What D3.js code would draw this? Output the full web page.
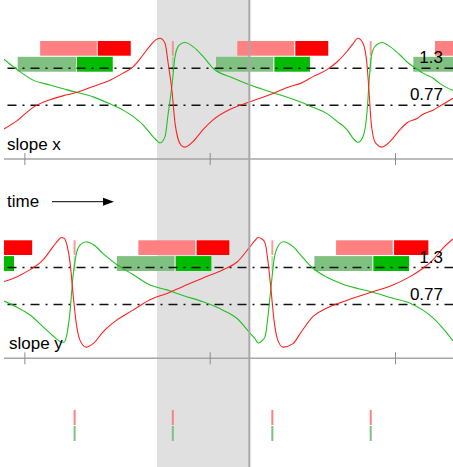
<!DOCTYPE html>
<html>
<head>
<meta charset="utf-8">
<script src="https://cdn.jsdelivr.net/npm/d3@7/dist/d3.min.js"></script>
<style>
	body { margin: 0; background: #fff; }
	svg { display: block; font-family: "Liberation Sans", Arial, sans-serif; }
</style>
</head>
<body>
<svg id="chart" width="453" height="467"></svg>
<script>

// time axis: unlabelled ticks, shaded window whose right edge is "now"
var tickTimes = [0, 10, 20];
var windowSpan = [7.16, 12.14];
var thresholds = [1.3, 0.77];
var thresholdLabels = ["1.3", "0.77"];

// slope x
var sxTime = [-1.10, -0.39, 0.47, 1.39, 2.30, 2.90, 3.71, 4.62, 5.33, 5.86, 6.40, 6.78, 7.05, 7.32, 7.59, 7.75, 7.97, 8.13, 8.29, 8.45,
	8.67, 9.10, 9.64, 10.18, 11.26, 12.18, 13.42, 14.34, 14.87, 15.58, 16.33, 16.87, 17.41, 17.73, 18.00, 18.27, 18.49, 18.60, 18.71, 18.81,
	18.98, 19.30, 19.73, 20.27, 20.65, 21.19, 21.51, 22.05, 22.43, 23.13];
var sxRed = [0.43, 0.55, 0.74, 0.85, 0.92, 0.96, 1.04, 1.13, 1.23, 1.32, 1.49, 1.62, 1.70, 1.73, 1.66, 1.39, 0.96, 0.51, 0.29, 0.20,
	0.17, 0.25, 0.42, 0.56, 0.73, 0.82, 0.94, 1.04, 1.08, 1.18, 1.28, 1.39, 1.54, 1.65, 1.73, 1.66, 1.35, 0.96, 0.53, 0.34,
	0.22, 0.17, 0.25, 0.42, 0.52, 0.58, 0.64, 0.70, 0.76, 0.87];
var sxGreen = [1.43, 1.28, 1.13, 1.06, 0.99, 0.95, 0.89, 0.79, 0.70, 0.61, 0.49, 0.37, 0.29, 0.23, 0.32, 0.63, 1.07, 1.47, 1.61, 1.65,
	1.67, 1.61, 1.47, 1.30, 1.16, 1.06, 0.95, 0.87, 0.82, 0.74, 0.65, 0.54, 0.42, 0.30, 0.24, 0.32, 0.67, 1.10, 1.45, 1.56,
	1.63, 1.67, 1.61, 1.49, 1.39, 1.29, 1.23, 1.16, 1.08, 0.98];
var sxRedLight = [[0.85, 3.91], [11.49, 14.55], [22.16, 25]];
var sxRedDark = [[3.96, 5.74], [14.62, 16.40]];
var sxGreenLight = [[-0.36, 2.79], [10.34, 13.43], [20.99, 25]];
var sxGreenDark = [[2.84, 4.77], [13.49, 15.41]];
var sxSwitch = [8.01, 18.69];

// slope y
var syTime = [-1.10, -0.39, 0.31, 1.01, 1.55, 1.82, 1.98, 2.14, 2.30, 2.47, 2.63, 2.79, 3.00, 3.33, 3.71, 4.25, 5.00, 5.86, 6.78, 7.70,
	8.56, 9.64, 10.72, 11.48, 12.18, 12.45, 12.61, 12.82, 12.99, 13.15, 13.31, 13.47, 13.64, 13.96, 14.50, 14.87, 15.58, 16.33, 17.19, 18.76,
	19.89, 20.81, 21.51, 22.05, 22.59, 23.13];
var syRed = [1.10, 1.17, 1.27, 1.41, 1.60, 1.69, 1.73, 1.72, 1.62, 1.36, 0.91, 0.52, 0.26, 0.16, 0.21, 0.38, 0.55, 0.69, 0.84, 0.93,
	1.03, 1.15, 1.27, 1.38, 1.60, 1.69, 1.73, 1.71, 1.65, 1.38, 0.98, 0.55, 0.29, 0.16, 0.21, 0.35, 0.60, 0.72, 0.81, 0.95,
	1.05, 1.17, 1.29, 1.41, 1.58, 1.71];
var syGreen = [0.82, 0.73, 0.62, 0.45, 0.32, 0.26, 0.23, 0.23, 0.35, 0.69, 1.19, 1.48, 1.62, 1.67, 1.63, 1.50, 1.34, 1.20, 1.05, 0.98,
	0.90, 0.81, 0.69, 0.57, 0.36, 0.28, 0.22, 0.25, 0.31, 0.61, 1.02, 1.41, 1.58, 1.67, 1.60, 1.49, 1.29, 1.16, 1.06, 0.95,
	0.86, 0.79, 0.69, 0.58, 0.43, 0.25];
var syRedLight = [[6.15, 9.21], [16.82, 19.88]];
var syRedDark = [[-1.42, 0.42], [9.30, 11.06], [19.95, 21.80]];
var syGreenLight = [[4.99, 8.09], [15.65, 18.78]];
var syGreenDark = [[-1.42, -0.56], [8.17, 10.09], [18.83, 20.76]];
var sySwitch = [2.71, 13.38];

var svg = d3.select("#chart");
var W = 453, H = 467;
var [ mL, mR ] = [ 4, 0 ];

var x = d3.scaleLinear().domain([-1.10, 23.13]).range([ mL, W - mR ]);

svg.append("clipPath").attr("id", "plotclip")
	.append("rect").attr("x", mL).attr("y", 0).attr("width", W - mL - mR).attr("height", H);

// shaded window + now line, full height
svg.append("rect")
	.attr("x", x(windowSpan[0])).attr("y", 0)
	.attr("width", x(windowSpan[1]) - x(windowSpan[0])).attr("height", H)
	.attr("fill", "#e0e0e0");

var panels = [
	{ name: "slope x", top: 0, time: sxTime, red: sxRed, green: sxGreen,
		redLight: sxRedLight, redDark: sxRedDark, greenLight: sxGreenLight, greenDark: sxGreenDark, sw: sxSwitch, labelX: 7 },
	{ name: "slope y", top: 199.3, time: syTime, red: syRed, green: syGreen,
		redLight: syRedLight, redDark: syRedDark, greenLight: syGreenLight, greenDark: syGreenDark, sw: sySwitch, labelX: 9 },
];

panels.forEach(p => draw_panel(p));

function draw_panel(p)	{

	var g = svg.append("g").attr("transform", `translate(0, ${p.top})`);
	var y = d3.scaleLinear([0, 2], [159, 159 - 2*69.8]);
	var rowR = [41, 14.7], rowG = [56.8, 14.9];		// bar rows: top, height

	// axis line + ticks going both ways
	g.append("line")
		.attr("x1", mL).attr("x2", W).attr("y1", y(0)).attr("y2", y(0))
		.attr("stroke", "#a6a6a6").attr("stroke-width", 1.5);

	var ax = g.append("g")
		.attr("transform", `translate(0, ${y(0) - 6})`)
		.call(d3.axisBottom(x).tickValues(tickTimes).tickSize(12).tickFormat(""));
	ax.select(".domain").remove();
	ax.selectAll(".tick line").attr("stroke", "#8c8c8c");

	var pg = g.append("g").attr("clip-path", "url(#plotclip)");

	function bars(data, row, fill)	{
		pg.append("g").selectAll("rect")
			.data(data)
			.join("rect")
			.attr("x", d => x(d[0]))
			.attr("width", d => x(d[1]) - x(d[0]))
			.attr("y", row[0])
			.attr("height", row[1])
			.attr("fill", fill);
	}

	bars(p.redLight, rowR, "#ff8080");
	bars(p.redDark, rowR, "#ff0000");
	bars(p.greenLight, rowG, "#80c080");
	bars(p.greenDark, rowG, "#00bb00");

	// switch marks
	pg.append("g").selectAll("rect")
		.data(p.sw)
		.join("rect")
		.attr("x", d => x(d) - 1).attr("width", 2)
		.attr("y", rowR[0]).attr("height", rowR[1])
		.attr("fill", "#ff8080").attr("opacity", 0.8);
	pg.append("g").selectAll("rect")
		.data(p.sw)
		.join("rect")
		.attr("x", d => x(d) - 1).attr("width", 2)
		.attr("y", rowG[0]).attr("height", rowG[1])
		.attr("fill", "#80c080").attr("opacity", 0.5);

	// thresholds
	pg.append("g").selectAll("line")
		.data(thresholds)
		.join("line")
		.attr("x1", 7.5).attr("x2", W)
		.attr("y1", d => y(d)).attr("y2", d => y(d))
		.attr("stroke", "#111")
		.attr("stroke-width", 1.4)
		.attr("stroke-dasharray", "9,6,2,6");

	var line = d3.line()
		.x(d => x(d[0]))
		.y(d => y(d[1]))
		.curve(d3.curveMonotoneX);

	pg.append("path")
		.datum(p.time.map((t, i) => [t, p.green[i]]))
		.attr("d", line)
		.attr("fill", "none").attr("stroke", "#22c022").attr("stroke-width", 1.1);
	pg.append("path")
		.datum(p.time.map((t, i) => [t, p.red[i]]))
		.attr("d", line)
		.attr("fill", "none").attr("stroke", "#ff2020").attr("stroke-width", 1.1);

	g.append("g").selectAll("text")
		.data(thresholds)
		.join("text")
		.attr("x", 443)
		.attr("y", d => y(d) - 5)
		.attr("text-anchor", "end")
		.attr("font-size", 17)
		.text((d, i) => thresholdLabels[i]);

	g.append("text")
		.attr("x", p.labelX).attr("y", 150)
		.attr("font-size", 17)
		.text(p.name);

}

// now line over everything in the band
svg.append("line")
	.attr("x1", x(windowSpan[1])).attr("x2", x(windowSpan[1]))
	.attr("y1", 0).attr("y2", H)
	.attr("stroke", "#a8a8a8").attr("stroke-width", 2);

// time arrow
svg.append("text").attr("x", 7).attr("y", 206.5).attr("font-size", 17).text("time");
svg.append("line").attr("x1", 52).attr("x2", 104).attr("y1", 201.7).attr("y2", 201.7).attr("stroke", "#000");
svg.append("path").attr("d", "M103,197.7L114,201.7L103,205.7Z").attr("fill", "#000");

// switch summary row
var allSwitch = sySwitch.concat(sxSwitch).sort(d3.ascending);
svg.append("g").selectAll("rect")
	.data(allSwitch)
	.join("rect")
	.attr("x", d => x(d) - 1).attr("width", 2)
	.attr("y", 410).attr("height", 15)
	.attr("fill", "#ff8080");
svg.append("g").selectAll("rect")
	.data(allSwitch)
	.join("rect")
	.attr("x", d => x(d) - 1).attr("width", 2)
	.attr("y", 426).attr("height", 15)
	.attr("fill", "#80c080");

</script>
</body>
</html>
